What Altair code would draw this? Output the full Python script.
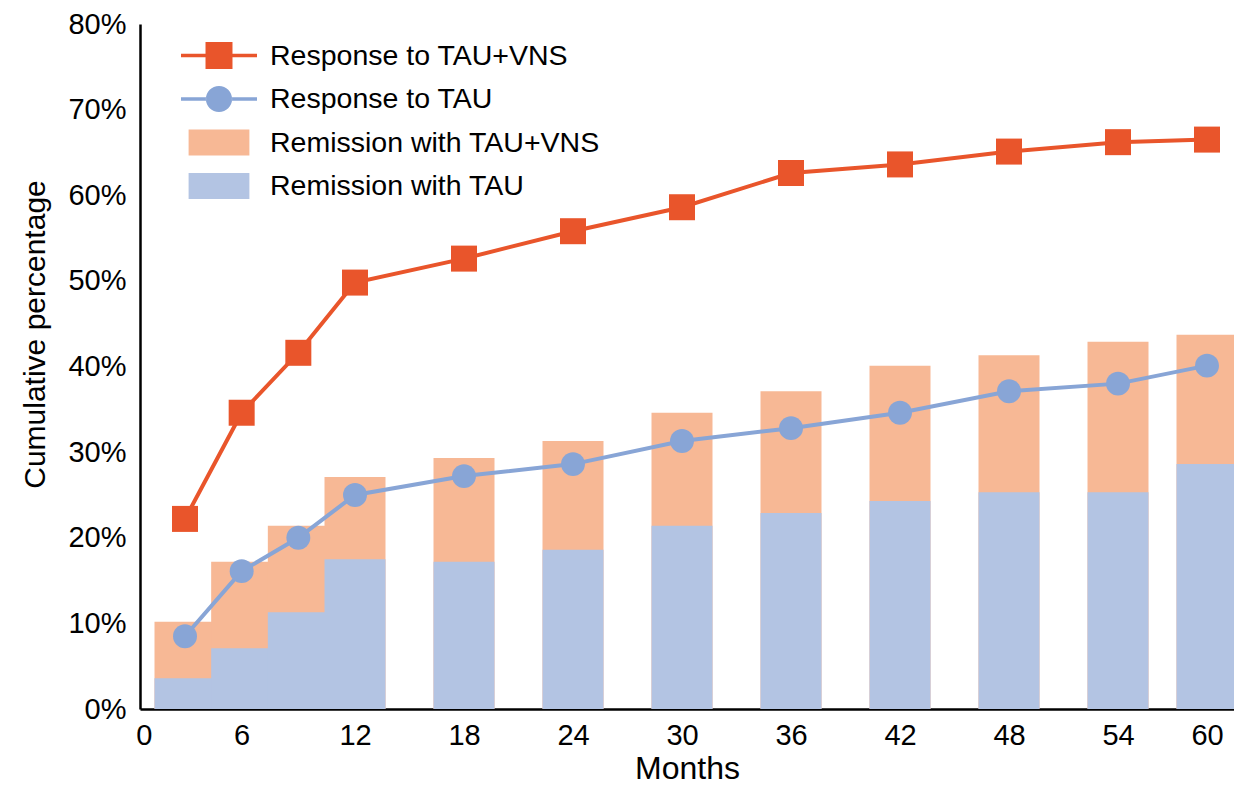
import altair as alt
import pandas as pd

# ---------------- data ----------------
months = [3, 6, 9, 12, 18, 24, 30, 36, 42, 48, 54, 60]
response_vns = [22.2, 34.6, 41.6, 49.8, 52.6, 55.8, 58.6, 62.6, 63.6, 65.1, 66.2, 66.5]
response_tau = [8.5, 16.1, 20.0, 25.0, 27.2, 28.6, 31.3, 32.8, 34.6, 37.1, 38.0, 40.1]
remission_vns = [10.2, 17.2, 21.4, 27.1, 29.3, 31.3, 34.6, 37.1, 40.1, 41.3, 42.9, 43.7]
remission_tau = [3.6, 7.1, 11.3, 17.5, 17.2, 18.6, 21.4, 22.9, 24.3, 25.3, 25.3, 28.6]

series_names = ["Response to TAU+VNS", "Response to TAU",
                "Remission with TAU+VNS", "Remission with TAU"]
series_colors = ["#E9552B", "#88A5D6", "#F7B895", "#B3C4E3"]

x_ticks = [0, 6, 12, 18, 24, 30, 36, 42, 48, 54, 60]
y_ticks = [0, 10, 20, 30, 40, 50, 60, 70, 80]

FONT = "Liberation Sans"

df = pd.DataFrame({
    "month": months,
    "resp_vns": response_vns,
    "resp_tau": response_tau,
    "rem_vns": remission_vns,
    "rem_tau": remission_tau,
})
legend_df = pd.DataFrame({"series": series_names})

# ---------------- scales / axes ----------------
x_scale = alt.Scale(domain=[0, 3, 12, 54, 60, 61.6],
                    range=[0, 45, 215, 978, 1067, 1094])
y_scale = alt.Scale(domain=[0, 80], nice=False)

x_axis = alt.Axis(values=x_ticks, ticks=False, grid=False, domainColor="black",
                  domainWidth=2.5, labelFont=FONT, labelFontSize=29, labelColor="black",
                  labelPadding=12, labelFlush=False, labelOverlap=False,
                  title="Months", titleFont=FONT, titleFontSize=32,
                  titleFontWeight="normal", titleColor="black",
                  titleBaseline="alphabetic", titleY=69)
y_axis = alt.Axis(values=y_ticks, labelExpr="datum.value + '%'", ticks=False, grid=False,
                  domainColor="black", domainWidth=2.5, labelFont=FONT, labelFontSize=29,
                  labelColor="black", labelPadding=14, labelOverlap=False,
                  title="Cumulative percentage", titleFont=FONT, titleFontSize=30,
                  titleFontWeight="normal", titleColor="black", titleAngle=270,
                  titleAlign="center", titleBaseline="middle", titleX=-105, titleY=310)


def X():
    return alt.X("month:Q", scale=x_scale, axis=x_axis)


def Y(col):
    return alt.Y(f"{col}:Q", scale=y_scale, axis=y_axis, title="Cumulative percentage")


base = alt.Chart(df)

bars_vns = base.mark_bar(size=61, orient="vertical", color=series_colors[2]).encode(
    x=X(), y=Y("rem_vns"))
bars_tau = base.mark_bar(size=61, orient="vertical", color=series_colors[3]).encode(
    x=X(), y=Y("rem_tau"))

line_tau = base.mark_line(color=series_colors[1], strokeWidth=4).encode(
    x=X(), y=Y("resp_tau"))
pts_tau = base.mark_point(shape="circle", filled=True, size=573, opacity=1,
                          color=series_colors[1]).encode(x=X(), y=Y("resp_tau"))

line_vns = base.mark_line(color=series_colors[0], strokeWidth=4).encode(
    x=X(), y=Y("resp_vns"))
pts_vns = base.mark_point(shape="square", filled=True, size=676, opacity=1,
                          color=series_colors[0]).encode(x=X(), y=Y("resp_vns"))

# legend symbols: line+square, line+circle, swatch, swatch (unit box -1..1)
legend_shapes = [
    "M-1,-0.045H-0.355V0.045H-1Z M0.355,-0.045H1V0.045H0.355Z "
    "M-0.355,-0.355H0.355V0.355H-0.355Z",
    "M-1,-0.045H-0.34V0.045H-1Z M0.34,-0.045H1V0.045H0.34Z "
    "M-0.345,0A0.345,0.345 0 1,0 0.345,0A0.345,0.345 0 1,0 -0.345,0Z",
    "M-0.8,-0.342H0.8V0.342H-0.8Z",
    "M-0.8,-0.342H0.8V0.342H-0.8Z",
]

legend = alt.Legend(title=None, orient="none", legendX=41, legendY=11,
                    direction="vertical", symbolSize=5776, symbolStrokeWidth=0,
                    symbolOpacity=1, clipHeight=41, rowPadding=2.5, labelOffset=13,
                    labelFont=FONT, labelFontSize=28.5, labelColor="black",
                    labelLimit=600, padding=0)

legend_layer = alt.Chart(legend_df).mark_point(filled=True, opacity=1).encode(
    color=alt.Color("series:N", scale=alt.Scale(domain=series_names, range=series_colors),
                    legend=legend),
    shape=alt.Shape("series:N", scale=alt.Scale(domain=series_names, range=legend_shapes),
                    legend=legend),
).transform_filter("false")

chart = alt.layer(
    bars_vns, bars_tau, line_tau, pts_tau, line_vns, pts_vns, legend_layer
).properties(
    width=1094, height=685,
    autosize=alt.AutoSizeParams(type="none"),
    padding={"left": 132, "top": 16, "right": 0, "bottom": 75},
    background="white",
).configure_view(stroke=None)

chart.save("out.html", embed_options={"renderer": "svg", "actions": False})
